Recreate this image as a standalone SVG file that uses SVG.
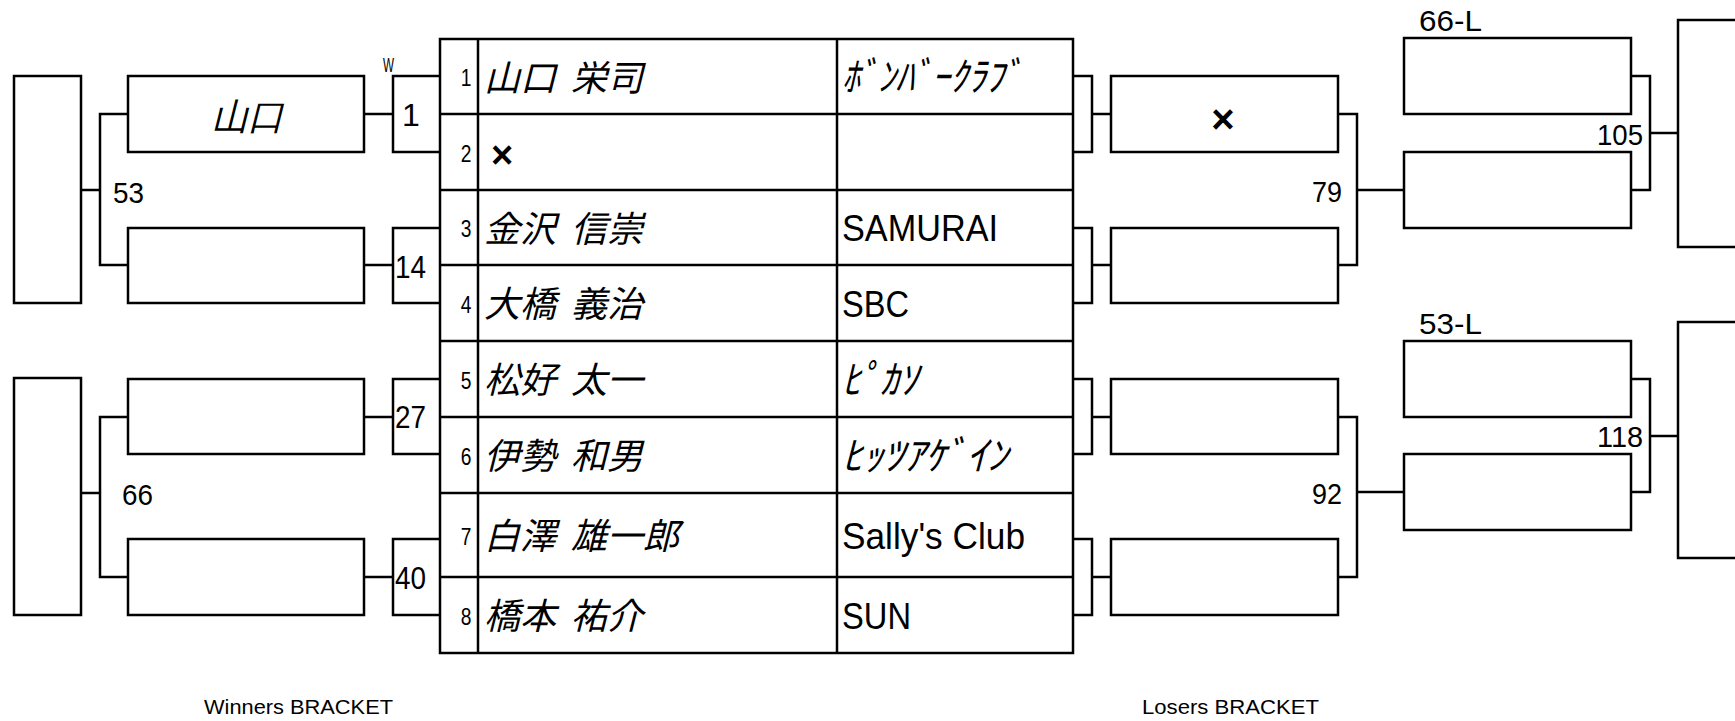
<svg xmlns="http://www.w3.org/2000/svg" width="1735" height="721" viewBox="0 0 1735 721">
<style>
.b{fill:none;stroke:#000;stroke-width:2.5}
.c{fill:none;stroke:#000;stroke-width:2.5}
text{font-family:"Liberation Sans",Arial,sans-serif;fill:#000}
.jp{font-family:"Noto Sans CJK JP",sans-serif;font-style:italic;font-size:36px}
.kana{font-family:"Noto Sans CJK JP",sans-serif;font-style:italic;font-size:40px}
.club{font-size:36px}
.num{font-size:24px}
.m{font-size:32px}
.lbl{font-size:30px}
.ttl{font-size:21px}
.x{font-weight:bold}
</style>
<rect width="1735" height="721" fill="#fff"/>

<g id="connectors">
  <path class="c" d="M440 76H393V152H440M364 114H393"/>
  <path class="c" d="M440 228H393V303H440M364 265H393"/>
  <path class="c" d="M440 379H393V454H440M364 417H393"/>
  <path class="c" d="M440 539H393V615H440M364 577H393"/>
  <path class="c" d="M128 114H100V265H128M81 190H100"/>
  <path class="c" d="M128 417H100V577H128M81 493H100"/>
  <path class="c" d="M1073 76H1092V152H1073M1092 114H1111"/>
  <path class="c" d="M1073 228H1092V303H1073M1092 265H1111"/>
  <path class="c" d="M1073 379H1092V454H1073M1092 417H1111"/>
  <path class="c" d="M1073 539H1092V615H1073M1092 577H1111"/>
  <path class="c" d="M1338 114H1357V265H1338M1357 190H1404"/>
  <path class="c" d="M1338 417H1357V577H1338M1357 492H1404"/>
  <path class="c" d="M1631 76H1650V190H1631M1650 133H1678"/>
  <path class="c" d="M1631 379H1650V492H1631M1650 436H1678"/>
</g>

<g id="table">
  <rect class="b" x="440" y="39" width="633" height="614"/>
  <path class="b" d="M478 39V653M837 39V653M440 114H1073M440 190H1073M440 265H1073M440 341H1073M440 417H1073M440 493H1073M440 577H1073"/>
</g>

<g id="row1">
  <text class="num" transform="translate(466,86) scale(0.8,1)" text-anchor="middle">1</text>
  <text class="jp" x="484" y="90.5">山口 <tspan x="571">栄司</tspan></text>
  <text class="kana" x="842" y="91" textLength="180" lengthAdjust="spacingAndGlyphs">ﾎﾞﾝﾊﾞｰｸﾗﾌﾞ</text>
</g>
<g id="row2">
  <text class="num" transform="translate(466,161.5) scale(0.8,1)" text-anchor="middle">2</text>
  <text class="x" x="502" y="167.5" font-size="38" text-anchor="middle">×</text>
</g>
<g id="row3">
  <text class="num" transform="translate(466,237) scale(0.8,1)" text-anchor="middle">3</text>
  <text class="jp" x="484" y="241.5">金沢 <tspan x="571">信崇</tspan></text>
  <text class="club" x="842" y="241" textLength="156" lengthAdjust="spacingAndGlyphs">SAMURAI</text>
</g>
<g id="row4">
  <text class="num" transform="translate(466,312.5) scale(0.8,1)" text-anchor="middle">4</text>
  <text class="jp" x="484" y="317">大橋 <tspan x="571">義治</tspan></text>
  <text class="club" x="842" y="316.5" textLength="67" lengthAdjust="spacingAndGlyphs">SBC</text>
</g>
<g id="row5">
  <text class="num" transform="translate(466,388.5) scale(0.8,1)" text-anchor="middle">5</text>
  <text class="jp" x="484" y="393">松好 <tspan x="571">太一</tspan></text>
  <text class="kana" x="842" y="393.5" textLength="76" lengthAdjust="spacingAndGlyphs">ﾋﾟｶｿ</text>
</g>
<g id="row6">
  <text class="num" transform="translate(466,464.5) scale(0.8,1)" text-anchor="middle">6</text>
  <text class="jp" x="484" y="469">伊勢 <tspan x="571">和男</tspan></text>
  <text class="kana" x="842" y="469.5" textLength="166" lengthAdjust="spacingAndGlyphs">ﾋｯﾂｱｹﾞｲﾝ</text>
</g>
<g id="row7">
  <text class="num" transform="translate(466,544.5) scale(0.8,1)" text-anchor="middle">7</text>
  <text class="jp" x="484" y="549">白澤 <tspan x="571">雄一郎</tspan></text>
  <text class="club" x="842" y="548.5" textLength="183" lengthAdjust="spacingAndGlyphs">Sally's Club</text>
</g>
<g id="row8">
  <text class="num" transform="translate(466,624.5) scale(0.8,1)" text-anchor="middle">8</text>
  <text class="jp" x="484" y="629">橋本 <tspan x="571">祐介</tspan></text>
  <text class="club" x="842" y="628.5" textLength="69" lengthAdjust="spacingAndGlyphs">SUN</text>
</g>

<g id="winners">
  <g id="w-final-top"><rect class="b" x="14" y="76" width="67" height="227"/></g>
  <g id="w-final-bottom"><rect class="b" x="14" y="378" width="67" height="237"/></g>
  <g id="w-box1"><rect class="b" x="128" y="76" width="236" height="76"/>
    <text x="248" y="129" font-family="'Noto Sans CJK JP',sans-serif" font-style="italic" font-size="36" text-anchor="middle">山口</text></g>
  <g id="w-box2"><rect class="b" x="128" y="228" width="236" height="75"/></g>
  <g id="w-box3"><rect class="b" x="128" y="379" width="236" height="75"/></g>
  <g id="w-box4"><rect class="b" x="128" y="539" width="236" height="76"/></g>
  <text x="383" y="72" font-size="20" textLength="11" lengthAdjust="spacingAndGlyphs">W</text>
  <text class="m" x="411" y="126" text-anchor="middle">1</text>
  <text class="m" x="395" y="278" textLength="31" lengthAdjust="spacingAndGlyphs">14</text>
  <text class="m" x="395" y="428" textLength="31" lengthAdjust="spacingAndGlyphs">27</text>
  <text class="m" x="395" y="589" textLength="31" lengthAdjust="spacingAndGlyphs">40</text>
  <text class="lbl" x="113" y="203" textLength="31" lengthAdjust="spacingAndGlyphs">53</text>
  <text class="lbl" x="122" y="505" textLength="31" lengthAdjust="spacingAndGlyphs">66</text>
  <text class="ttl" x="204" y="714" textLength="189" lengthAdjust="spacingAndGlyphs">Winners BRACKET</text>
</g>

<g id="losers">
  <g id="l-box1"><rect class="b" x="1111" y="76" width="227" height="76"/>
    <text class="x" x="1223" y="133" font-size="40" text-anchor="middle">×</text></g>
  <g id="l-box2"><rect class="b" x="1111" y="228" width="227" height="75"/></g>
  <g id="l-box3"><rect class="b" x="1111" y="379" width="227" height="75"/></g>
  <g id="l-box4"><rect class="b" x="1111" y="539" width="227" height="76"/></g>
  <g id="l-box5"><rect class="b" x="1404" y="38" width="227" height="76"/></g>
  <g id="l-box6"><rect class="b" x="1404" y="152" width="227" height="76"/></g>
  <g id="l-box7"><rect class="b" x="1404" y="341" width="227" height="76"/></g>
  <g id="l-box8"><rect class="b" x="1404" y="454" width="227" height="76"/></g>
  <g id="l-final-top"><path class="b" d="M1740 20H1678V247H1740"/></g>
  <g id="l-final-bottom"><path class="b" d="M1740 322H1678V558H1740"/></g>
  <text class="lbl" x="1312" y="202" textLength="30" lengthAdjust="spacingAndGlyphs">79</text>
  <text class="lbl" x="1312" y="504" textLength="30" lengthAdjust="spacingAndGlyphs">92</text>
  <text class="lbl" x="1597" y="145" textLength="46" lengthAdjust="spacingAndGlyphs">105</text>
  <text class="lbl" x="1597" y="447" textLength="46" lengthAdjust="spacingAndGlyphs">118</text>
  <text class="lbl" x="1419" y="31" textLength="63" lengthAdjust="spacingAndGlyphs">66-L</text>
  <text class="lbl" x="1419" y="334" textLength="63" lengthAdjust="spacingAndGlyphs">53-L</text>
  <text class="ttl" x="1142" y="714" textLength="177" lengthAdjust="spacingAndGlyphs">Losers BRACKET</text>
</g>
</svg>
